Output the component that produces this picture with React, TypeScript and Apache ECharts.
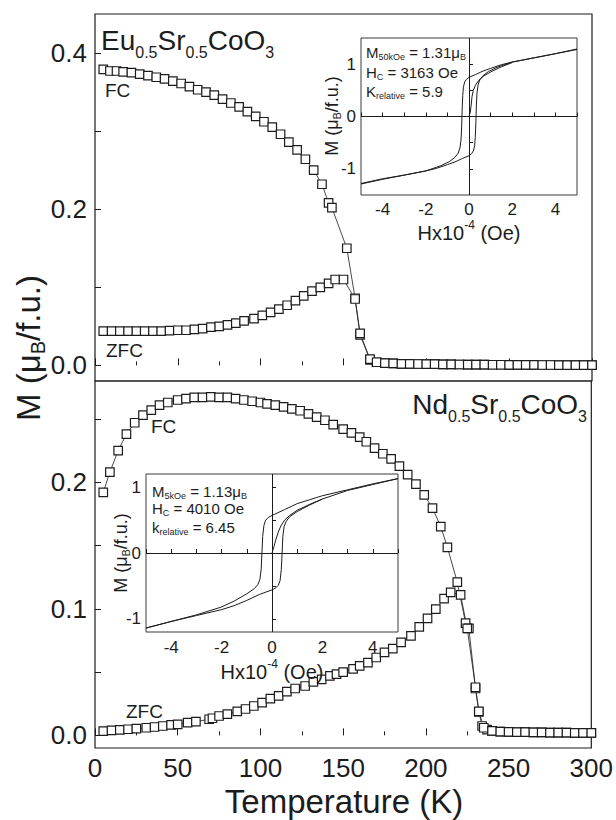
import React, { useEffect, useRef } from 'react';
import * as echarts from 'echarts';

// ---------- Eu0.5Sr0.5CoO3 (top panel) ----------
const euFcT = [5, 9, 13, 17, 22, 27, 32, 37, 42, 47, 52, 57, 62, 67, 72, 77, 82, 87, 92, 97, 102, 107, 112, 117, 122, 127, 132, 137, 141, 143, 152, 157, 160, 166];
const euFcM = [0.379, 0.377, 0.377, 0.376, 0.375, 0.373, 0.371, 0.369, 0.367, 0.364, 0.361, 0.357, 0.353, 0.350, 0.346, 0.341, 0.336, 0.331, 0.325, 0.319, 0.312, 0.305, 0.296, 0.286, 0.276, 0.264, 0.250, 0.232, 0.208, 0.202, 0.150, 0.086, 0.039, 0.007];
const euZfcT = [5, 10, 15, 20, 25, 30, 35, 40, 45, 50, 55, 60, 65, 70, 75, 80, 85, 90, 96, 101, 106, 111, 116, 121, 126, 131, 136, 141, 145, 150, 157, 160, 166];
const euZfcM = [0.044, 0.044, 0.044, 0.044, 0.044, 0.044, 0.044, 0.044, 0.0445, 0.045, 0.045, 0.046, 0.047, 0.049, 0.050, 0.052, 0.054, 0.057, 0.060, 0.064, 0.068, 0.072, 0.077, 0.083, 0.089, 0.095, 0.100, 0.105, 0.110, 0.110, 0.085, 0.041, 0.008];
const euTailT = [170, 175, 180, 185, 190, 195, 200, 205, 210, 215, 220, 225, 230, 235, 240, 245, 250, 255, 260, 265, 270, 275, 280, 285, 290, 295, 300];
const euTailM = [0.004, 0.003, 0.0025, 0.002, 0.002, 0.0018, 0.0016, 0.0015, 0.0013, 0.0012, 0.0011, 0.001, 0.001, 0.0009, 0.0008, 0.0008, 0.0007, 0.0007, 0.0006, 0.0006, 0.0005, 0.0005, 0.0004, 0.0004, 0.0003, 0.0003, 0.0003];

// ---------- Nd0.5Sr0.5CoO3 (bottom panel) ----------
const ndFcT = [5, 9, 14, 19, 24, 29, 34, 39, 44, 50, 55, 60, 65, 70, 75, 80, 85, 90, 95, 100, 104, 109, 114, 119, 124, 129, 134, 139, 144, 150, 155, 160, 164, 169, 174, 179, 184, 189, 194, 199, 204, 209, 213, 219, 224, 226, 230, 232, 234, 237];
const ndFcM = [0.192, 0.208, 0.225, 0.238, 0.247, 0.253, 0.257, 0.261, 0.263, 0.265, 0.266, 0.267, 0.267, 0.2675, 0.267, 0.267, 0.266, 0.265, 0.264, 0.263, 0.262, 0.261, 0.2595, 0.258, 0.2565, 0.254, 0.2515, 0.249, 0.2455, 0.242, 0.239, 0.2357, 0.232, 0.227, 0.2225, 0.2185, 0.2127, 0.206, 0.1985, 0.190, 0.1795, 0.165, 0.1486, 0.121, 0.0887, 0.0845, 0.037, 0.0185, 0.0074, 0.0045];
const ndZfcT = [5, 10, 15, 20, 25, 31, 36, 41, 46, 50, 56, 61, 69, 71, 75, 80, 86, 91, 96, 101, 106, 111, 116, 121, 127, 132, 137, 142, 146, 150, 156, 160, 165, 170, 175, 180, 185, 191, 196, 201, 206, 211, 215, 221, 225, 230, 232, 235];
const ndZfcM = [0.0034, 0.004, 0.0043, 0.0048, 0.0053, 0.006, 0.0066, 0.0074, 0.0082, 0.0087, 0.010, 0.0108, 0.0127, 0.0135, 0.0153, 0.0168, 0.0189, 0.0208, 0.0232, 0.0259, 0.0290, 0.0312, 0.0345, 0.037, 0.039, 0.0422, 0.0443, 0.047, 0.0483, 0.050, 0.0525, 0.0549, 0.0575, 0.0615, 0.0655, 0.0686, 0.0734, 0.0786, 0.0857, 0.0924, 0.0998, 0.108, 0.113, 0.111, 0.0845, 0.038, 0.019, 0.006];
const ndTailT = [240, 245, 250, 255, 260, 265, 270, 275, 280, 285, 290, 295, 300];
const ndTailM = [0.0035, 0.003, 0.0028, 0.0026, 0.0025, 0.0024, 0.0023, 0.0022, 0.0022, 0.0021, 0.002, 0.002, 0.002];

// ---------- hysteresis loops (H in 10^4 Oe, M in muB/f.u.) ----------
const euDesc = [[5, 1.29], [4, 1.20], [3, 1.12], [2, 1.04], [1.5, 0.99], [1, 0.92], [0.6, 0.86], [0.3, 0.80], [0, 0.75], [-0.12, 0.71], [-0.2, 0.66], [-0.26, 0.56], [-0.29, 0.40], [-0.32, 0.10], [-0.34, -0.20], [-0.37, -0.45], [-0.42, -0.60], [-0.5, -0.70], [-0.65, -0.78], [-0.9, -0.86], [-1.3, -0.94], [-2, -1.04], [-3, -1.12], [-4, -1.19], [-5, -1.28]];
const euAsc = [[-5, -1.29], [-4, -1.20], [-3, -1.12], [-2, -1.04], [-1.5, -0.99], [-1, -0.92], [-0.6, -0.86], [-0.3, -0.80], [0, -0.75], [0.12, -0.71], [0.2, -0.66], [0.26, -0.56], [0.29, -0.40], [0.32, -0.10], [0.34, 0.20], [0.37, 0.45], [0.42, 0.60], [0.5, 0.70], [0.65, 0.78], [0.9, 0.86], [1.3, 0.94], [2, 1.04], [3, 1.12], [4, 1.20], [5, 1.28]];
const euVirgin = [[0, 0], [0.06, 0.08], [0.1, 0.22], [0.14, 0.38], [0.2, 0.50], [0.3, 0.60], [0.45, 0.69], [0.7, 0.78], [1.0, 0.85], [1.5, 0.95], [2.0, 1.03]];
const ndDesc = [[5, 1.13], [4, 1.05], [3, 0.96], [2, 0.87], [1.5, 0.81], [1, 0.75], [0.5, 0.66], [0, 0.57], [-0.15, 0.54], [-0.25, 0.50], [-0.32, 0.42], [-0.37, 0.25], [-0.40, 0.0], [-0.43, -0.25], [-0.48, -0.40], [-0.56, -0.48], [-0.7, -0.54], [-1.0, -0.62], [-1.5, -0.73], [-2.0, -0.82], [-3.0, -0.94], [-4.0, -1.04], [-5.0, -1.14]];
const ndAsc = [[-5, -1.14], [-4, -1.04], [-3, -0.95], [-2, -0.86], [-1.5, -0.80], [-1, -0.72], [-0.5, -0.63], [0, -0.56], [0.15, -0.53], [0.25, -0.49], [0.32, -0.42], [0.37, -0.25], [0.40, 0.0], [0.43, 0.25], [0.48, 0.40], [0.56, 0.48], [0.7, 0.55], [1.0, 0.63], [1.5, 0.73], [2, 0.82], [3, 0.95], [4, 1.04], [5, 1.13]];
const ndVirgin = [[0, 0], [0.08, 0.10], [0.15, 0.20], [0.25, 0.32], [0.35, 0.41], [0.5, 0.50], [0.7, 0.57], [1.0, 0.65], [1.5, 0.74], [2.0, 0.82]];

// ---------- ticks ----------
const tempTicks = { min: 0, max: 300, interval: 50 };
const euYLabels = [0, 0.2, 0.4];
const euYTicks = [0, 0.1, 0.2, 0.3, 0.4];
const ndYLabels = [0, 0.1, 0.2];
const ndYTicks = [0, 0.05, 0.1, 0.15, 0.2, 0.25];
const loopXLabels = [-4, -2, 0, 2, 4];
const loopXTicks = [-5, -4, -3, -2, -1, 0, 1, 2, 3, 4, 5];
const loopYLabels = [-1, 0, 1];
const loopYTicks = [-1, -0.5, 0, 0.5, 1];

const FONT = '"Liberation Sans", Arial, Helvetica, sans-serif';
const INK = '#1c1c1c';

const pairs = (t: number[], m: number[]) => t.map((x, i) => [x, m[i]]);

function squares(idx: number, data: number[][]) {
  return {
    type: 'line', xAxisIndex: idx, yAxisIndex: idx, data,
    symbol: 'rect', symbolSize: 8.5, showSymbol: true, clip: false,
    itemStyle: { color: '#fff', borderColor: INK, borderWidth: 1.2 },
    lineStyle: { color: INK, width: 0.8 }, z: 3,
  };
}
function loop(idx: number, data: number[][], extra: any = {}) {
  return {
    type: 'line', xAxisIndex: idx, yAxisIndex: idx, data, symbol: 'none',
    lineStyle: { color: INK, width: 1 }, z: 4, ...extra,
  };
}
const zeroLines = {
  markLine: {
    silent: true, symbol: ['none', 'none'], label: { show: false },
    lineStyle: { color: INK, width: 1, type: 'solid' },
    data: [{ xAxis: 0 }, { yAxis: 0 }],
  },
};

function tempAxis(grid: number, labels: boolean) {
  return {
    gridIndex: grid, type: 'value', ...tempTicks,
    splitLine: { show: false }, axisLine: { show: false },
    axisTick: { inside: true, length: 7, lineStyle: { color: INK, width: 1 } },
    minorTick: { show: true, splitNumber: 2, length: 4, lineStyle: { color: INK, width: 1 } },
    axisLabel: { show: labels, fontSize: 26, color: INK, fontFamily: FONT, margin: 7, showMinLabel: true, showMaxLabel: true },
  };
}
function mAxis(grid: number, min: number, max: number, labels: number[], ticks: number[]) {
  return {
    gridIndex: grid, type: 'value', min, max,
    splitLine: { show: false }, axisLine: { show: false },
    axisTick: { inside: true, length: 6, customValues: ticks, lineStyle: { color: INK, width: 1 } },
    axisLabel: { customValues: labels, formatter: (v: number) => v.toFixed(1), fontSize: 26, color: INK, fontFamily: FONT, margin: 8 },
  };
}
function hAxis(grid: number, margin: number) {
  return {
    gridIndex: grid, type: 'value', min: -5, max: 5,
    splitLine: { show: false }, axisLine: { show: false },
    axisTick: { inside: true, length: 4, customValues: loopXTicks, lineStyle: { color: INK, width: 1 } },
    axisLabel: { customValues: loopXLabels, fontSize: 17, color: INK, fontFamily: FONT, margin },
  };
}
function loopYAxis(grid: number, lim: number) {
  return {
    gridIndex: grid, type: 'value', min: -lim, max: lim,
    splitLine: { show: false }, axisLine: { show: false },
    axisTick: { inside: true, length: 4, customValues: loopYTicks, lineStyle: { color: INK, width: 1 } },
    axisLabel: { customValues: loopYLabels, fontSize: 17, color: INK, fontFamily: FONT, margin: 5 },
  };
}

function rich(base: number, sub: number, pad: number, sup = false) {
  return {
    m: { fontSize: base, fontFamily: FONT, fill: INK },
    s: { fontSize: sub, fontFamily: FONT, fill: INK, padding: sup ? [0, 0, pad, 0] : [pad, 0, 0, 0] },
  };
}
function txt(x: number, y: number, text: string, r: any, align = 'left', rotation = 0) {
  return {
    type: 'text', x, y, rotation, z: 10,
    style: { text, rich: r, align, verticalAlign: 'middle', fill: INK, font: `16px ${FONT}` },
  };
}
function plain(x: number, y: number, text: string, size: number, align = 'left') {
  return {
    type: 'text', x, y, z: 10,
    style: { text, align, verticalAlign: 'middle', fill: INK, fontSize: size, fontFamily: FONT },
  };
}

export default function App() {
  const ref = useRef<HTMLDivElement>(null);
  useEffect(() => {
    if (!ref.current) return;
    const chart = echarts.init(ref.current, null, { renderer: 'svg' });
    const fRich = rich(28, 16, 25);
    const annRich = rich(15, 9, 10);
    const inYRich = rich(18, 11, 10);
    const hRich = rich(20, 12, 16, true);
    const yRich = rich(33, 20, 20);
    chart.setOption({
      animation: false,
      backgroundColor: '#fff',
      grid: [
        { left: 95, top: 14, width: 497, height: 367, show: true, borderColor: INK, borderWidth: 1.2, backgroundColor: 'transparent' },
        { left: 95, top: 381, width: 497, height: 367, show: true, borderColor: INK, borderWidth: 1.2, backgroundColor: 'transparent' },
        { left: 361, top: 38, width: 216, height: 157, show: true, borderColor: '#3a3a3a', borderWidth: 1, backgroundColor: 'transparent' },
        { left: 146, top: 474, width: 252, height: 158, show: true, borderColor: '#3a3a3a', borderWidth: 1, backgroundColor: 'transparent' },
      ],
      xAxis: [tempAxis(0, false), tempAxis(1, true), hAxis(2, 6), hAxis(3, 7)],
      yAxis: [
        mAxis(0, -0.02, 0.45, euYLabels, euYTicks),
        mAxis(1, -0.01, 0.28, ndYLabels, ndYTicks),
        loopYAxis(2, 1.5),
        loopYAxis(3, 1.2),
      ],
      series: [
        squares(0, pairs(euFcT.concat(euTailT), euFcM.concat(euTailM))),
        squares(0, pairs(euZfcT.concat(euTailT), euZfcM.concat(euTailM))),
        squares(1, pairs(ndFcT.concat(ndTailT), ndFcM.concat(ndTailM))),
        squares(1, pairs(ndZfcT.concat(ndTailT), ndZfcM.concat(ndTailM))),
        loop(2, euDesc, zeroLines),
        loop(2, euAsc),
        loop(2, euVirgin),
        loop(3, ndDesc, zeroLines),
        loop(3, ndAsc),
        loop(3, ndVirgin),
      ],
      graphic: [
        txt(101, 40, '{m|Eu}{s|0.5}{m|Sr}{s|0.5}{m|CoO}{s|3}', fRich),
        txt(587, 404, '{m|Nd}{s|0.5}{m|Sr}{s|0.5}{m|CoO}{s|3}', fRich, 'right'),
        plain(105, 90, 'FC', 19),
        plain(106, 350, 'ZFC', 19),
        plain(151, 426, 'FC', 19),
        plain(126, 711, 'ZFC', 19),
        txt(366, 52, '{m|M}{s|50kOe}{m| = 1.31μ}{s|B}', annRich),
        txt(366, 72, '{m|H}{s|C}{m| = 3163 Oe}', annRich),
        txt(366, 91, '{m|K}{s|relative}{m| = 5.9}', annRich),
        txt(152, 491, '{m|M}{s|5kOe}{m| = 1.13μ}{s|B}', annRich),
        txt(152, 508, '{m|H}{s|C}{m| = 4010 Oe}', annRich),
        txt(152, 527, '{m|k}{s|relative}{m| = 6.45}', annRich),
        txt(469, 233, '{m|Hx10}{s|-4}{m| (Oe)}', hRich, 'center'),
        txt(272, 672, '{m|Hx10}{s|-4}{m| (Oe)}', hRich, 'center'),
        txt(332, 116, '{m|M (μ}{s|B}{m|/f.u.)}', inYRich, 'center', Math.PI / 2),
        txt(121, 553, '{m|M (μ}{s|B}{m|/f.u.)}', inYRich, 'center', Math.PI / 2),
        txt(28, 348, '{m|M (μ}{s|B}{m|/f.u.)}', yRich, 'center', Math.PI / 2),
        plain(344, 801, 'Temperature (K)', 33, 'center'),
      ],
    });
    return () => chart.dispose();
  }, []);
  return <div ref={ref} style={{ position: 'absolute', left: 0, top: 0, width: 616, height: 820 }} />;
}
